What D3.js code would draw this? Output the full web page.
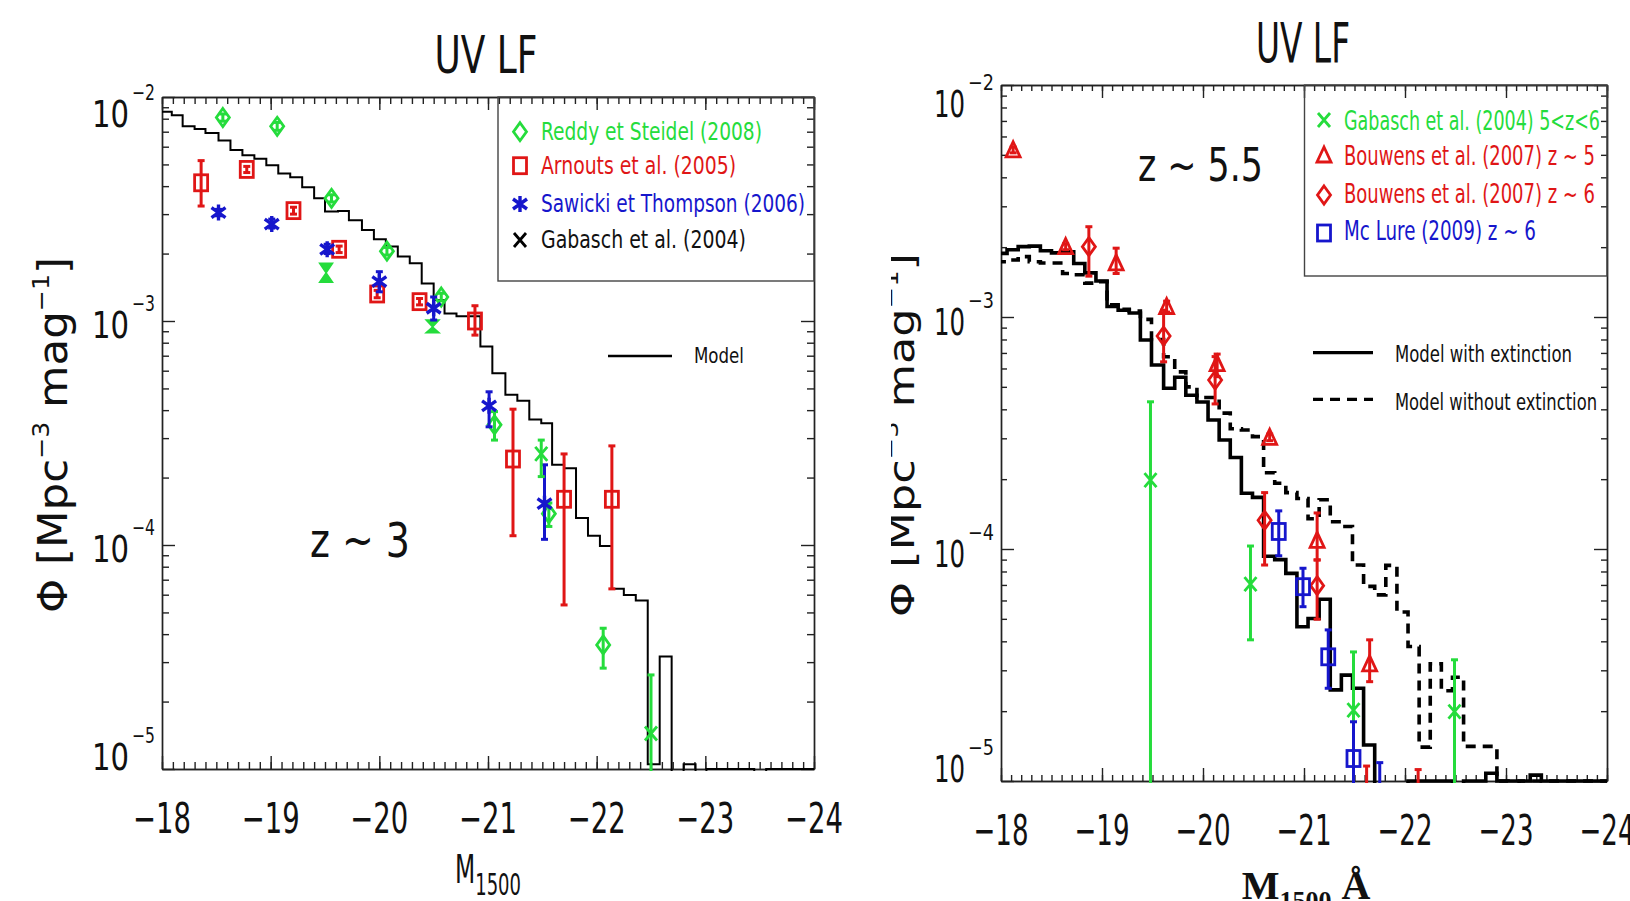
<!DOCTYPE html>
<html>
<head>
<meta charset="utf-8">
<script src="https://cdn.jsdelivr.net/npm/d3@7"></script>
<style>
  body { margin: 0; background: #fff; }
  svg { display: block; }
  text { font-family: "Liberation Sans Narrow", "DejaVu Sans Condensed", "Arial Narrow", sans-serif; fill: #111; }
</style>
</head>
<body>
<svg id="chart" width="1630" height="901"></svg>
<script>
// ---- shared axis values ----
const xTickVals = [-18, -19, -20, -21, -22, -23, -24];
const yTickVals = [1e-2, 1e-3, 1e-4, 1e-5];

// ---- left panel, z ~ 3 ----
// model histogram: bin edges (M1500) and phi per bin (0 = empty bin)
const modelEdgesL = [-18.00,-18.09,-18.19,-18.30,-18.40,-18.52,-18.63,-18.74,-18.85,-18.96,-19.07,-19.18,-19.29,-19.40,-19.50,-19.62,-19.72,-19.84,-19.95,-20.06,-20.17,-20.28,-20.39,-20.50,-20.60,-20.71,-20.82,-20.93,-21.04,-21.16,-21.27,-21.38,-21.49,-21.59,-21.70,-21.81,-21.92,-22.03,-22.14,-22.25,-22.36,-22.47,-22.58,-22.69,-22.80,-22.91,-23.01,-23.12,-23.23,-23.34,-23.45,-23.56,-23.67,-23.78,-23.89,-24.00];
const modelPhiL = [8.6e-3,8.3e-3,7.4e-3,7.2e-3,6.9e-3,6.4e-3,5.8e-3,5.5e-3,5.3e-3,4.96e-3,4.56e-3,4.38e-3,3.95e-3,3.53e-3,3.08e-3,3.1e-3,2.82e-3,2.55e-3,2.32e-3,2.15e-3,1.94e-3,1.81e-3,1.47e-3,1.24e-3,1.08e-3,1.05e-3,1.05e-3,7.7e-4,5.85e-4,4.68e-4,4.4e-4,3.63e-4,3.5e-4,2.28e-4,2.2e-4,1.32e-4,1.1e-4,9.9e-5,6.37e-5,5.98e-5,5.65e-5,1.05e-5,3.18e-5,0,1.05e-5,0,1.0e-5,1.0e-5,1.0e-5,1.0e-5,0,1.0e-5,1.0e-5,1.0e-5,1.0e-5];

// points: [M1500, phi, phi low, phi high]
const reddy = [[-18.56,8.1e-3,7.8e-3,8.4e-3],[-19.06,7.4e-3,7.1e-3,7.7e-3],[-19.56,3.53e-3,3.4e-3,3.66e-3],[-20.07,2.05e-3,1.97e-3,2.13e-3],[-20.57,1.28e-3,1.23e-3,1.33e-3],[-21.06,3.44e-4,2.94e-4,3.94e-4],[-21.56,1.38e-4,1.21e-4,1.54e-4],[-22.06,3.58e-5,2.82e-5,4.25e-5]];
const reddyBow = [[-19.51,1.64e-3,1.49e-3,1.81e-3],[-20.49,9.4e-4,8.87e-4,1.01e-3]];
const arnouts = [[-18.36,4.14e-3,3.26e-3,5.2e-3],[-18.78,4.75e-3,4.6e-3,4.9e-3],[-19.21,3.11e-3,3.0e-3,3.22e-3],[-19.63,2.09e-3,2.02e-3,2.16e-3],[-19.98,1.32e-3,1.27e-3,1.37e-3],[-20.37,1.22e-3,1.18e-3,1.26e-3],[-20.88,1.0e-3,8.65e-4,1.17e-3],[-21.23,2.42e-4,1.10e-4,4.04e-4],[-21.70,1.6e-4,5.4e-5,2.55e-4],[-22.14,1.6e-4,6.37e-5,2.77e-4]];
const sawicki = [[-18.52,3.05e-3,2.95e-3,3.15e-3],[-19.01,2.71e-3,2.6e-3,2.85e-3],[-19.52,2.09e-3,2.0e-3,2.2e-3],[-20.00,1.5e-3,1.35e-3,1.66e-3],[-20.50,1.14e-3,1.01e-3,1.28e-3],[-21.01,4.18e-4,3.37e-4,4.83e-4],[-21.52,1.53e-4,1.06e-4,2.28e-4]];
const gabasch3 = [[-21.49,2.55e-4,2.02e-4,2.94e-4],[-22.50,1.44e-5,1e-7,2.63e-5]];
const legendL = ["Reddy et Steidel (2008)", "Arnouts et al. (2005)", "Sawicki et Thompson (2006)", "Gabasch et al. (2004)"];

// ---- right panel, z ~ 5.5 ----
const modelEdgesR = [-17.95,-18.06,-18.17,-18.28,-18.39,-18.50,-18.61,-18.72,-18.83,-18.94,-19.05,-19.16,-19.27,-19.38,-19.49,-19.61,-19.72,-19.83,-19.94,-20.05,-20.16,-20.27,-20.38,-20.49,-20.60,-20.71,-20.82,-20.93,-21.04,-21.15,-21.26,-21.37,-21.48,-21.59,-21.70,-21.81,-21.92,-22.03,-22.14,-22.25,-22.36,-22.47,-22.58,-22.69,-22.80,-22.91,-23.02,-23.13,-23.24,-23.35,-23.46,-23.57,-23.68,-23.79,-23.90,-24.01];
const modelExtR = [1.88e-3,1.95e-3,2.01e-3,2.02e-3,1.93e-3,1.89e-3,1.91e-3,1.70e-3,1.55e-3,1.43e-3,1.11e-3,1.07e-3,1.04e-3,7.96e-4,6.21e-4,4.93e-4,5.5e-4,4.6e-4,4.3e-4,3.6e-4,2.95e-4,2.48e-4,1.74e-4,1.67e-4,9.3e-5,9.0e-5,7.85e-5,4.62e-5,5.02e-5,6.07e-5,2.47e-5,2.86e-5,2.51e-5,1.43e-5,0,0,0,1.0e-5,1.0e-5,1.0e-5,1.0e-5,0,1.0e-5,1.0e-5,1.08e-5,1.0e-5,1.0e-5,1.0e-5,1.06e-5,1.0e-5,1.0e-5,1.0e-5,1.0e-5,1.0e-5,1.0e-5];
const modelNoExtR = [1.73e-3,1.76e-3,1.82e-3,1.73e-3,1.71e-3,1.71e-3,1.54e-3,1.52e-3,1.40e-3,1.42e-3,1.13e-3,1.08e-3,1.06e-3,9.77e-4,8.0e-4,6.74e-4,5.8e-4,5.0e-4,4.5e-4,4.5e-4,3.85e-4,3.3e-4,3.26e-4,3.05e-4,2.13e-4,1.92e-4,1.75e-4,1.65e-4,1.35e-4,1.63e-4,1.31e-4,1.25e-4,8.53e-5,6.9e-5,6.34e-5,8.5e-5,5.35e-5,3.8e-5,1.4e-5,3.2e-5,2.45e-5,2.8e-5,1.41e-5,1.41e-5,1.41e-5,1.0e-5,0,1.0e-5,1.0e-5,1.0e-5,1.0e-5,1.0e-5,1.0e-5,1.0e-5,1.0e-5];
const gabasch55 = [[-19.48,1.98e-4,1e-7,4.31e-4],[-20.47,7.06e-5,4.06e-5,1.03e-4],[-21.49,2.02e-5,1e-7,3.6e-5],[-22.49,1.99e-5,1e-7,3.33e-5]];
const bouwens5 = [[-18.12,5.25e-3,5.1e-3,5.4e-3],[-18.64,2.01e-3,1.95e-3,2.07e-3],[-19.14,1.71e-3,1.54e-3,1.98e-3],[-19.64,1.11e-3,1.05e-3,1.17e-3],[-20.14,6.3e-4,5.53e-4,6.92e-4],[-20.66,3.03e-4,2.93e-4,3.13e-4],[-21.13,1.09e-4,8.97e-5,1.43e-4],[-21.65,3.2e-5,2.68e-5,4.06e-5],[-22.13,6e-6,1e-7,1.12e-5]];
const bouwens6 = [[-18.87,2.01e-3,1.5e-3,2.45e-3],[-19.61,8.28e-4,6.41e-4,1.07e-3],[-20.12,5.35e-4,4.22e-4,6.75e-4],[-20.61,1.33e-4,8.53e-5,1.75e-4],[-21.13,6.95e-5,4.98e-5,8.97e-5],[-21.62,5e-6,1e-7,1.16e-5]];
const mclure = [[-20.75,1.19e-4,9.35e-5,1.46e-4],[-20.99,6.88e-5,5.64e-5,8.26e-5],[-21.24,3.43e-5,2.51e-5,4.48e-5],[-21.49,1.25e-5,1e-7,1.8e-5],[-21.75,5e-6,1e-7,1.2e-5]];
const legendR = ["Gabasch et al. (2004) 5<z<6", "Bouwens et al. (2007) z ~ 5", "Bouwens et al. (2007) z ~ 6", "Mc Lure (2009) z ~ 6"];

const GREEN = "#25dc3c", RED = "#e01616", BLUE = "#1616cc";
const svg = d3.select("#chart");

function symbol(sel, type, cx, cy, color) {
  const s = sel.append("g")
    .attr("transform", "translate(" + cx + "," + cy + ")")
    .attr("stroke", color).attr("stroke-width", 2.8).attr("fill", "none");
  if (type == "diamond") s.append("path").attr("d", "M0,-9L6.5,0L0,9L-6.5,0Z");
  if (type == "square") s.append("rect").attr("x", -6.5).attr("y", -8).attr("width", 13).attr("height", 16);
  if (type == "triangle") s.append("path").attr("d", "M0,-8L7,7L-7,7Z");
  if (type == "x") s.append("path").attr("d", "M-6,-7L6,7M-6,7L6,-7");
  if (type == "asterisk") s.append("path").attr("d", "M0,-8V8M-7,-5L7,5M-7,5L7,-5").attr("stroke-width", 3.4);
  return s;
}

function fitText(sel, str, x, y, size, len, color, anchor) {
  return sel.append("text")
    .attr("x", x).attr("y", y)
    .attr("text-anchor", anchor || "start")
    .attr("textLength", len).attr("lengthAdjust", "spacingAndGlyphs")
    .style("font-size", size + "px")
    .style("fill", color || "#111")
    .text(str);
}

function panel(c) {
  const x = d3.scaleLinear().domain([-18, -24]).range([c.x0, c.x1]);
  const y = d3.scaleLog().domain([1e-5, 1e-2]).range([c.y1, c.y0]);
  const g = svg.append("g").attr("id", c.id);

  g.append("clipPath").attr("id", c.id + "-clip").append("rect")
    .attr("x", c.x0).attr("y", c.y0 - 2)
    .attr("width", c.x1 - c.x0).attr("height", c.y1 - c.y0 + 4);

  // axes: major + minor ticks, all pointing inward
  const minorX = d3.range(180, 241).map(d => -d / 10);
  const minorY = [];
  [1e-5, 1e-4, 1e-3].forEach(dec => d3.range(2, 10).forEach(k => minorY.push(dec * k)));
  const axes = [
    [d3.axisBottom(x), "translate(0," + c.y1 + ")", minorX, xTickVals],
    [d3.axisTop(x), "translate(0," + c.y0 + ")", minorX, xTickVals],
    [d3.axisLeft(y), "translate(" + c.x0 + ",0)", minorY, yTickVals],
    [d3.axisRight(y), "translate(" + c.x1 + ",0)", minorY, yTickVals]
  ];
  axes.forEach(a => {
    g.append("g").attr("transform", a[1])
      .call(a[0].tickValues(a[2]).tickSize(-c.minorLen).tickSizeOuter(0).tickFormat(""));
    g.append("g").attr("transform", a[1])
      .call(a[0].tickValues(a[3]).tickSize(-c.majorLen).tickSizeOuter(0).tickFormat(""));
  });
  g.selectAll(".domain, .tick line").attr("stroke", "#222").attr("stroke-width", 1.4);

  // tick labels
  xTickVals.forEach(d => {
    fitText(g, "\u2212" + Math.abs(d), x(d), c.xLabY, c.xLabSize, c.xLabLen, "#111", "middle");
  });
  yTickVals.forEach(d => {
    const yy = Math.min(Math.max(y(d) + c.yLabOff, c.y0 + c.yLabTop), c.y1 + 1);
    fitText(g, "10", c.x0 - 10 - c.supLen, yy, 38, c.tenLen, "#111", "end");
    fitText(g, "\u2212" + Math.round(-Math.log10(d)), c.x0 - 7 - c.supLen, yy - 27, 21, c.supLen);
  });

  return { g: g, x: x, y: y, c: c };
}

function histogram(p, edges, vals, width, dash) {
  const pts = [];
  vals.forEach((v, i) => { pts.push([edges[i], v]); pts.push([edges[i + 1], v]); });
  const line = d3.line()
    .x(d => p.x(d[0]))
    .y(d => d[1] > 0 ? p.y(d[1]) : p.c.y1 + 60);
  p.g.append("path")
    .attr("clip-path", "url(#" + p.c.id + "-clip)")
    .attr("d", line(pts))
    .attr("fill", "none").attr("stroke", "#000")
    .attr("stroke-width", width)
    .attr("stroke-dasharray", dash || null);
}

function points(p, rows, type, color) {
  const g = p.g.append("g").attr("clip-path", "url(#" + p.c.id + "-clip)");
  rows.forEach(r => {
    const cx = p.x(r[0]), cy = p.y(r[1]);
    const ylo = Math.min(p.y(r[2]), p.c.y1 + 40), yhi = p.y(r[3]);
    if (type == "bowtie") {
      g.append("path")
        .attr("d", "M" + (cx - 6.5) + "," + yhi + "L" + (cx + 6.5) + "," + yhi + "L" + cx + "," + cy + "Z" +
                   "M" + (cx - 6.5) + "," + ylo + "L" + (cx + 6.5) + "," + ylo + "L" + cx + "," + cy + "Z")
        .attr("fill", color).attr("stroke", color).attr("stroke-width", 1.5);
      return;
    }
    g.append("line").attr("x1", cx).attr("x2", cx).attr("y1", ylo).attr("y2", yhi)
      .attr("stroke", color).attr("stroke-width", 3);
    [ylo, yhi].forEach(yy => {
      g.append("line").attr("x1", cx - 3.5).attr("x2", cx + 3.5).attr("y1", yy).attr("y2", yy)
        .attr("stroke", color).attr("stroke-width", 3);
    });
    symbol(g, type, cx, cy, color);
  });
}

function yTitle(sel, cx, cy, size, len) {
  const t = sel.append("text")
    .attr("transform", "translate(" + cx + "," + cy + ") rotate(-90)")
    .attr("text-anchor", "middle")
    .attr("textLength", len).attr("lengthAdjust", "spacingAndGlyphs")
    .style("font-size", size + "px");
  const up = size * 0.45;
  t.append("tspan").text("\u03a6  [Mpc");
  t.append("tspan").attr("dy", -up).style("font-size", (size * 0.58) + "px").text("\u22123");
  t.append("tspan").attr("dy", up).text("  mag");
  t.append("tspan").attr("dy", -up).style("font-size", (size * 0.58) + "px").text("\u22121");
  t.append("tspan").attr("dy", up).text("]");
}

// ================= left panel =================
const pL = panel({ id: "left", x0: 162, x1: 814, y0: 97, y1: 769, majorLen: 13, minorLen: 7,
                   xLabY: 833, xLabSize: 42, xLabLen: 58, yLabOff: 16.5, yLabTop: 30,
                   tenLen: 37, supLen: 23 });

histogram(pL, modelEdgesL, modelPhiL, 2);
points(pL, reddyBow, "bowtie", GREEN);
points(pL, reddy, "diamond", GREEN);
points(pL, arnouts, "square", RED);
points(pL, sawicki, "asterisk", BLUE);
points(pL, gabasch3, "x", GREEN);

fitText(svg, "UV LF", 486, 73, 51, 103, "#111", "middle");
fitText(svg, "z ~ 3", 310, 557, 48, 100);
yTitle(svg, 67, 435, 40, 356);

const xtL = svg.append("text").attr("x", 488).attr("y", 883).attr("text-anchor", "middle")
  .attr("textLength", 66).attr("lengthAdjust", "spacingAndGlyphs").style("font-size", "39px");
xtL.append("tspan").text("M");
xtL.append("tspan").attr("dy", 12).style("font-size", "30px").text("1500");

// legend
svg.append("rect").attr("x", 498).attr("y", 97).attr("width", 316).attr("height", 184)
  .attr("fill", "none").attr("stroke", "#444").attr("stroke-width", 1.4);
const legSymL = [["diamond", GREEN], ["square", RED], ["asterisk", BLUE], ["x", "#000"]];
const legYL = [131.7, 165.7, 204, 240];
const legBaseL = [140, 173.5, 212, 248];
const legLenL = [221, 195, 264, 205];
legendL.forEach((s, i) => {
  symbol(svg, legSymL[i][0], 520, legYL[i], legSymL[i][1]);
  fitText(svg, s, 541, legBaseL[i], 24, legLenL[i], legSymL[i][1] == "#000" ? "#111" : legSymL[i][1]);
});
svg.append("line").attr("x1", 608).attr("x2", 672).attr("y1", 356).attr("y2", 356)
  .attr("stroke", "#000").attr("stroke-width", 2.5);
fitText(svg, "Model", 694, 363, 21, 50);

// ================= right panel =================
const pR = panel({ id: "right", x0: 1001, x1: 1607, y0: 85, y1: 781, majorLen: 13, minorLen: 6,
                   xLabY: 845, xLabSize: 43, xLabLen: 55, yLabOff: 18, yLabTop: 32,
                   tenLen: 31, supLen: 26 });

histogram(pR, modelEdgesR, modelNoExtR, 3.6, "10,7");
histogram(pR, modelEdgesR, modelExtR, 3.6);
points(pR, gabasch55, "x", GREEN);
points(pR, bouwens5, "triangle", RED);
points(pR, bouwens6, "diamond", RED);
points(pR, mclure, "square", BLUE);

fitText(svg, "UV LF", 1303, 62, 56, 94, "#111", "middle");
fitText(svg, "z ~ 5.5", 1138, 181, 47, 125);

svg.append("clipPath").attr("id", "rtitle-clip").append("rect")
  .attr("x", 891).attr("y", 0).attr("width", 100).attr("height", 901);
const rt = svg.append("g").attr("clip-path", "url(#rtitle-clip)");
yTitle(rt, 914, 435, 36, 364);

const xtR = svg.append("text").attr("x", 1306).attr("y", 899).attr("text-anchor", "middle")
  .style("font-family", "'Liberation Serif', 'DejaVu Serif', serif").style("font-weight", "bold")
  .style("font-size", "40px");
xtR.append("tspan").text("M");
xtR.append("tspan").attr("dy", 10).style("font-size", "26px").text("1500");
xtR.append("tspan").attr("dy", -10).text(" \u00c5");

svg.append("rect").attr("x", 1304.5).attr("y", 85).attr("width", 302.5).attr("height", 191)
  .attr("fill", "none").attr("stroke", "#444").attr("stroke-width", 1.4);
const legSymR = [["x", GREEN], ["triangle", RED], ["diamond", RED], ["square", BLUE]];
const legYR = [120, 155, 195, 233];
const legBaseR = [130, 165, 203, 240];
const legLenR = [256, 251, 251, 192];
legendR.forEach((s, i) => {
  symbol(svg, legSymR[i][0], 1324, legYR[i], legSymR[i][1]);
  fitText(svg, s, 1344, legBaseR[i], 27, legLenR[i], legSymR[i][1]);
});
svg.append("line").attr("x1", 1313).attr("x2", 1373).attr("y1", 352.7).attr("y2", 352.7)
  .attr("stroke", "#000").attr("stroke-width", 3.2);
svg.append("line").attr("x1", 1313).attr("x2", 1373).attr("y1", 399.3).attr("y2", 399.3)
  .attr("stroke", "#000").attr("stroke-width", 3.2).attr("stroke-dasharray", "10,7");
fitText(svg, "Model with extinction", 1395, 362, 23, 177);
fitText(svg, "Model without extinction", 1395, 410, 23, 202);
</script>
</body>
</html>
